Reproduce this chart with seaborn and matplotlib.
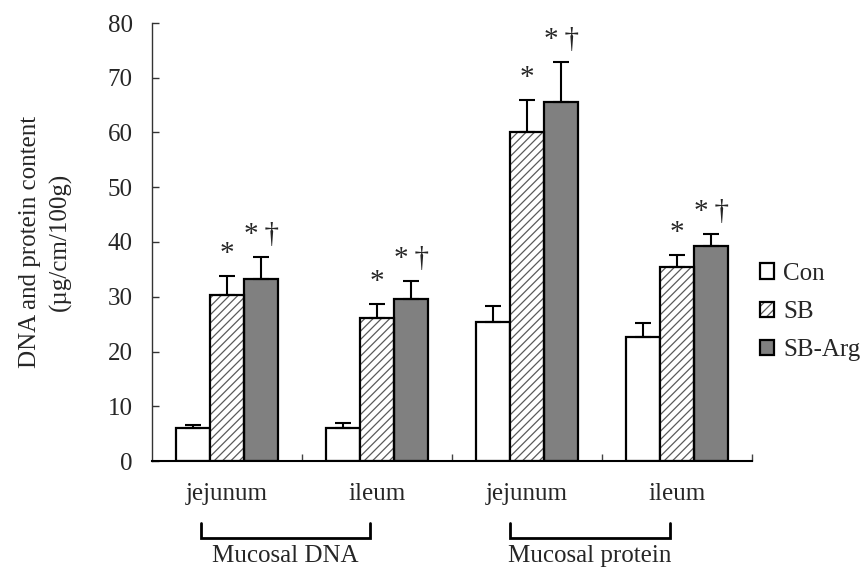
import numpy as np
import pandas as pd

import matplotlib
matplotlib.use("Agg")
import matplotlib.pyplot as plt
from matplotlib.patches import Rectangle, Patch
from matplotlib.legend_handler import HandlerTuple
import seaborn as sns

# data (mean and upper error)
sites = ["jejunum", "ileum", "jejunum", "ileum"]
measures = ["Mucosal DNA", "Mucosal DNA", "Mucosal protein", "Mucosal protein"]
groups = ["Con", "SB", "SB-Arg"]

con_mean = [6.0, 6.0, 25.3, 22.7]
con_err = [0.5, 0.9, 3.0, 2.5]
sb_mean = [30.3, 26.1, 60.1, 35.5]
sb_err = [3.5, 2.6, 5.8, 2.1]
arg_mean = [33.3, 29.5, 65.6, 39.3]
arg_err = [3.9, 3.4, 7.2, 2.2]

sb_marks = ["*", "*", "*", "*"]
arg_marks = ["*\u2009\u2020", "*\u2009\u2020", "*\u2009\u2020", "*\u2009\u2020"]

keys = [m + " " + s for m, s in zip(measures, sites)]
df = pd.DataFrame({
    "key": keys * 3,
    "group": np.repeat(groups, len(keys)),
    "value": con_mean + sb_mean + arg_mean,
    "err": con_err + sb_err + arg_err,
})

sns.set_style("ticks")
plt.rcParams["font.family"] = ["Liberation Serif", "DejaVu Serif"]
plt.rcParams["font.size"] = 18
plt.rcParams["hatch.linewidth"] = 0.9

fig = plt.figure(figsize=(8.61, 5.68), dpi=100)
ax = fig.add_axes([152 / 861, 107 / 568, 600 / 861, 438 / 568])

pal = {"Con": "white", "SB": "white", "SB-Arg": "#808080"}
sns.barplot(data=df, x="key", y="value", hue="group", order=keys, hue_order=groups,
            palette=pal, width=0.68, gap=0, edgecolor="black", linewidth=1.6,
            errorbar=None, legend=False, ax=ax, saturation=1)

# hatch on SB bars in gray, then black outline on top
for p in ax.containers[1]:
    p.set_hatch("////")
    p.set_edgecolor("#5a5a5a")
    p.set_linewidth(0)
    ax.add_patch(Rectangle(p.get_xy(), p.get_width(), p.get_height(), fill=False,
                           edgecolor="black", linewidth=1.6, zorder=p.get_zorder() + 0.1))

# upper error bars
for cont, g in zip(ax.containers[:3], groups):
    sub = df[df["group"] == g]
    xs = [p.get_x() + p.get_width() / 2 for p in cont]
    ys = sub["value"].values
    es = sub["err"].values
    ax.errorbar(xs, ys, yerr=[np.zeros_like(es), es], fmt="none", ecolor="black",
                elinewidth=1.5, capsize=6, capthick=1.5, zorder=1)

# significance marks
for cont, g, marks in [(ax.containers[1], "SB", sb_marks), (ax.containers[2], "SB-Arg", arg_marks)]:
    sub = df[df["group"] == g]
    for p, v, e, m in zip(cont, sub["value"].values, sub["err"].values, marks):
        ax.annotate(m, xy=(p.get_x() + p.get_width() / 2, v + e), xytext=(0, 11),
                    textcoords="offset points", ha="center", va="baseline", fontsize=21)

ax.set_ylim(0, 80)
ax.set_xlim(-0.5, 3.5)
ax.set_yticks(np.arange(0, 81, 10))
ax.set_xticks(range(len(sites)))
ax.set_xticklabels(sites)
ax.set_xticks(np.arange(0.5, 4, 1), minor=True)
ax.tick_params(axis="x", which="major", length=0, pad=16, labelsize=18)
ax.tick_params(axis="x", which="minor", direction="in", length=5, width=1, color="#444444")
ax.tick_params(axis="y", direction="in", length=5, width=1, color="#333333", pad=14, labelsize=18)
ax.set_xlabel("")
ax.set_ylabel("DNA and protein content\n(\u00b5g/cm/100g)", fontsize=18, linespacing=1.45)
ax.yaxis.set_label_coords(-0.133, 0.5)

for s in ["top", "right"]:
    ax.spines[s].set_visible(False)
ax.spines["left"].set_color("#333333")
ax.spines["left"].set_linewidth(1)
ax.spines["bottom"].set_color("black")
ax.spines["bottom"].set_linewidth(1.5)

# group brackets below the tick labels
tr = ax.get_xaxis_transform()
for (x0, x1), name in [((-0.173, 0.953), "Mucosal DNA"), ((1.887, 2.953), "Mucosal protein")]:
    ax.plot([x0, x0, x1, x1], [-0.141, -0.175, -0.175, -0.141], color="black",
            lw=2, transform=tr, clip_on=False, solid_joinstyle="miter")
    ax.text((x0 + x1) / 2, -0.217, name, transform=tr, ha="center", va="center", fontsize=18)

# legend
hatch_h = (Patch(facecolor="white", edgecolor="#5a5a5a", hatch="////", linewidth=0),
           Patch(facecolor="none", edgecolor="black", linewidth=1.6))
handles = [Patch(facecolor="white", edgecolor="black", linewidth=1.6), hatch_h,
           Patch(facecolor="#808080", edgecolor="black", linewidth=1.6)]
fig.legend(handles, groups, loc="center left", bbox_to_anchor=(760 / 861, 1 - 312 / 568),
           frameon=False, fontsize=18, handlelength=0.56, handleheight=0.56,
           handletextpad=0.36, labelspacing=0.65, borderpad=0, borderaxespad=0,
           handler_map={tuple: HandlerTuple(ndivide=1, pad=0)})

fig.savefig("out.png", dpi=100)
